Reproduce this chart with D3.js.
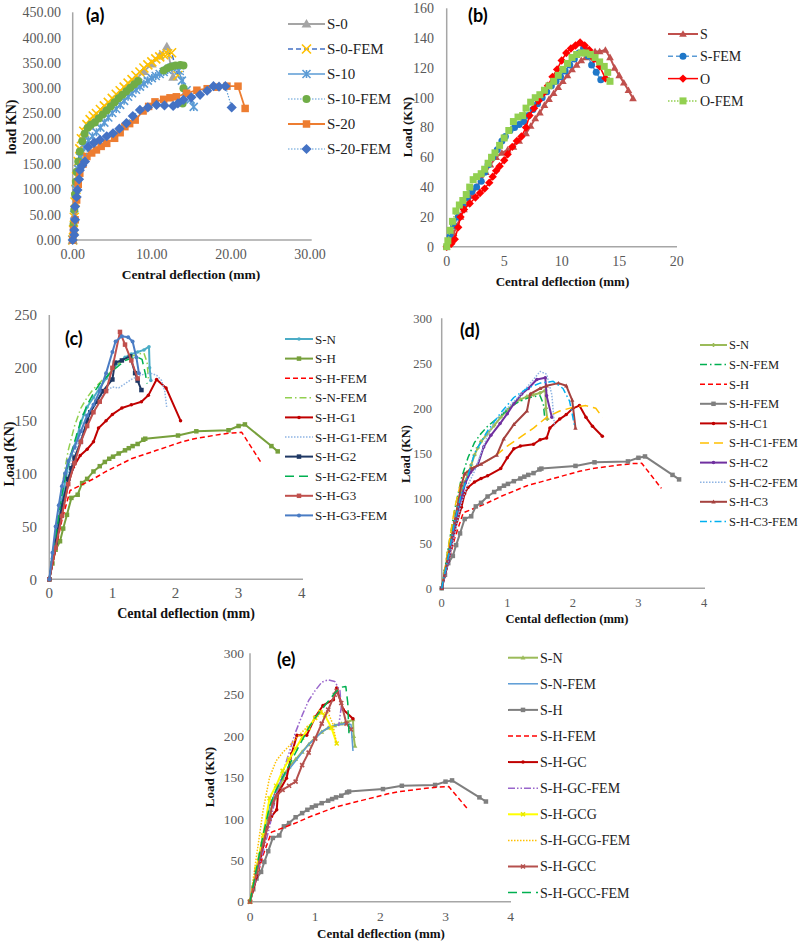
<!DOCTYPE html>
<html>
<head>
<meta charset="utf-8">
<script src="https://cdn.jsdelivr.net/npm/d3@7"></script>
<style>
  body { margin: 0; background: #fff; }
  svg text { font-family: "Liberation Serif", "Times New Roman", serif; }
</style>
</head>
<body>
<svg id="fig" width="800" height="945"></svg>
<script>
// ---- tick values ----
const aXTicks = [0, 10, 20, 30];
const aYTicks = [0, 50, 100, 150, 200, 250, 300, 350, 400, 450];
const bXTicks = [0, 5, 10, 15, 20];
const bYTicks = [0, 20, 40, 60, 80, 100, 120, 140, 160];
const mmTicks = [0, 1, 2, 3, 4];
const cYTicks = [0, 50, 100, 150, 200, 250];
const deYTicks = [0, 50, 100, 150, 200, 250, 300];

// ---- (a) deflection (mm), load (kN) ----
const aS0 = [[0,0],[0.2,40],[0.5,110],[1.0,175],[1.6,205],[2.2,225],[3.0,243],[4.0,258],[5.0,273],[6.0,288],[7.0,303],[8.0,318],[9.0,333],[10.0,348],[11.0,364],[11.9,382],[12.7,322]];
const aS0FEM = [[0,0],[0.1,20],[0.2,45],[0.3,75],[0.4,100],[0.5,125],[0.7,155],[0.9,180],[1.1,200],[1.4,215],[1.8,228],[2.2,238],[2.6,245],[3.0,250],[3.5,258],[4.0,265],[4.5,272],[5.0,280],[5.5,288],[6.0,295],[6.5,302],[7.0,310],[7.5,317],[8.0,325],[8.5,332],[9.0,340],[9.5,346],[10.0,352],[10.5,358],[11.0,362],[11.5,366],[12.0,368],[12.5,370],[13.3,325]];
const aS10 = [[0,0],[0.2,50],[0.4,100],[0.7,140],[1.0,163],[1.5,183],[2.0,197],[2.5,205],[3.0,213],[3.5,222],[4.0,232],[4.5,242],[5.0,251],[5.5,259],[6.0,267],[6.5,275],[7.0,283],[7.5,290],[8.0,297],[8.5,303],[9.0,309],[9.5,315],[10.0,320],[10.5,324],[11.0,328],[11.5,332],[12.0,336],[12.5,341],[13.0,343],[13.4,335],[13.8,315],[14.4,296],[14.9,278],[15.3,263]];
const aS10FEM = [[0,0],[0.1,30],[0.2,60],[0.3,90],[0.4,115],[0.5,135],[0.7,155],[0.9,175],[1.2,195],[1.5,210],[1.9,222],[2.3,228],[2.8,232],[3.3,240],[3.8,248],[4.3,256],[4.8,264],[5.3,272],[5.8,280],[6.3,287],[6.8,294],[7.3,301],[7.8,308],[8.3,314],[11.5,335],[12.0,340],[12.5,343],[13.0,345],[13.6,346],[14.0,345],[14.0,300],[13.9,270]];
const aS20 = [[0,0],[0.1,20],[0.3,40],[0.5,79],[0.7,110],[0.9,132],[1.3,150],[1.8,165],[2.4,172],[3.0,178],[3.6,185],[4.3,191],[5.3,201],[6.0,212],[6.6,224],[7.2,230],[7.9,237],[8.9,255],[9.6,264],[10.4,273],[11.5,278],[12.3,281],[13.1,283],[14.4,290],[15.7,296],[17.0,299],[18.2,302],[19.5,304],[20.9,304],[21.8,260]];
const aS20FEM = [[0,0],[0.2,10],[0.2,20],[0.3,40],[0.3,66],[0.5,85],[0.6,99],[0.8,120],[0.9,138],[1.2,147],[1.55,155],[1.97,184],[2.7,192],[3.45,198],[4.3,205],[5.1,211],[5.9,220],[6.8,231],[7.6,245],[8.5,257],[9.5,262],[10.6,267],[11.6,266],[12.7,265],[13.3,270],[14.0,277],[15.0,282],[16.1,287],[17.0,295],[17.8,304],[18.5,303],[19.3,304],[20.1,262]];

// ---- (b) ----
const bS = [[0,0],[0.3,4],[0.6,9],[0.9,14],[1.2,20],[1.5,25],[1.8,29],[2.2,34],[2.6,40],[3.0,45],[3.4,50],[3.8,55],[4.3,60],[4.8,63],[5.3,65],[5.8,67],[6.3,71],[6.9,76],[7.3,81],[7.7,86],[8.1,90],[8.5,95],[8.9,99],[9.3,103],[9.7,107],[10.1,111],[10.5,115],[10.9,119],[11.3,122],[11.7,125],[12.1,127],[12.5,129],[12.9,131],[13.3,131],[13.8,132],[14.2,127],[14.6,120],[15.0,115],[15.4,110],[15.8,105],[16.2,99.5]];
const bSFEM = [[0,0],[0.3,7],[0.6,14],[1.0,20],[1.4,27],[1.8,33],[2.2,37],[2.6,40],[3.0,44],[3.3,50],[3.6,55],[4.0,60],[4.4,65],[4.8,71],[5.1,74],[5.5,78],[5.9,80],[6.3,82],[6.7,84],[7.1,88],[7.5,92],[7.9,96],[8.3,100],[8.7,104],[9.1,108],[9.5,111],[9.9,114],[10.3,118],[10.7,122],[11.1,126],[11.5,130],[11.9,133],[12.3,128],[12.6,122],[13.0,117],[13.4,112]];
const bO = [[0,0],[0.4,2],[0.7,5],[1.0,13],[1.2,20],[1.5,25],[2.0,29],[2.5,33],[2.9,36],[3.3,39],[3.7,43],[4.0,47],[4.3,51],[4.6,54],[5.0,58],[5.3,62],[5.7,67],[6.1,71],[6.5,74],[6.9,80],[7.2,88],[7.6,93],[8.0,98],[8.4,103],[8.8,108],[9.2,114],[9.6,119],[10.0,125],[10.4,130],[10.8,133],[11.2,135],[11.6,137],[12.0,135],[12.4,132],[12.8,126],[13.3,121],[13.8,113]];
const bOFEM = [[0,0],[0.1,4],[0.3,11],[0.5,17],[0.8,24],[1.1,28],[1.4,31],[1.7,35],[2.0,40],[2.3,45],[2.6,47],[3.0,49],[3.3,52],[3.6,56],[3.9,60],[4.2,63],[4.6,68],[5.0,73],[5.4,78],[5.8,84],[6.2,87],[6.6,88],[6.9,93],[7.3,97],[7.7,100],[8.1,102],[8.5,105],[8.9,108],[9.3,111],[9.7,115],[10.1,119],[10.5,123],[10.9,127],[11.3,129],[11.7,130],[12.1,130],[12.5,129],[12.9,127],[13.3,124],[13.7,121],[14.0,117],[14.2,111]];

// ---- shared S-N / S-H specimens (c, d, e) ----
const sN = [[0,0],[0.05,20],[0.1,40],[0.15,58],[0.2,75],[0.25,92],[0.3,108],[0.35,118],[0.4,126],[0.45,137],[0.5,148],[0.55,156],[0.6,163],[0.7,172],[0.8,181],[0.9,190],[1.0,198],[1.1,205],[1.2,210],[1.3,213],[1.4,215],[1.5,217],[1.58,220],[1.59,200],[1.61,188]];
const sNFEM = [[0,0],[0.1,45],[0.2,88],[0.3,122],[0.4,145],[0.5,162],[0.6,172],[0.7,180],[0.8,186],[0.9,192],[1.0,198],[1.1,204],[1.2,208],[1.3,211],[1.4,213],[1.5,214],[1.55,205],[1.57,190]];
const sH = [[0,0],[0.05,15],[0.1,28],[0.17,36],[0.22,48],[0.28,61],[0.35,77],[0.45,80],[0.52,91],[0.6,95],[0.7,102],[0.8,107],[0.88,111],[0.95,114],[1.01,116],[1.1,119],[1.2,122],[1.26,124],[1.32,126],[1.4,128],[1.49,132],[1.52,133],[2.04,136],[2.33,140],[2.84,141],[3.0,145],[3.1,146.5],[3.52,126],[3.62,121]];
const sHFEM = [[0,0],[0.1,28],[0.2,56],[0.33,84],[0.5,89],[0.7,95],[0.9,102],[1.1,108],[1.3,114],[1.5,118],[1.7,122],[1.9,126],[2.1,130],[2.3,133],[2.5,135],[2.7,137],[2.9,138.5],[3.05,139],[3.2,125],[3.35,111]];

// ---- (c) ----
const cG1 = [[0,0],[0.1,30],[0.2,62],[0.3,90],[0.38,106],[0.49,117],[0.6,123],[0.7,130],[0.78,143],[0.9,150],[1.0,156],[1.15,162],[1.3,165],[1.46,168],[1.57,174],[1.7,189],[1.85,181],[2.08,150]];
const cG1FEM = [[0,0],[0.1,35],[0.2,70],[0.3,100],[0.4,120],[0.5,135],[0.6,150],[0.7,163],[0.8,172],[0.9,178],[1.0,182],[1.1,181],[1.2,185],[1.3,189],[1.4,192],[1.5,194],[1.6,195],[1.7,193],[1.78,188],[1.83,178],[1.86,163]];
const cG2 = [[0,0],[0.1,35],[0.2,70],[0.3,95],[0.35,105],[0.4,115],[0.5,130],[0.6,150],[0.65,158],[0.75,168],[0.85,178],[1.0,189],[1.04,205],[1.15,207],[1.28,211],[1.36,195],[1.4,188],[1.46,179]];
const cG2FEM = [[0,0],[0.1,40],[0.2,80],[0.3,110],[0.4,130],[0.5,150],[0.6,165],[0.7,176],[0.8,185],[0.9,191],[1.0,197],[1.1,202],[1.2,207],[1.3,209],[1.4,210],[1.47,208],[1.52,195],[1.55,185]];
const cG3 = [[0,0],[0.1,30],[0.2,60],[0.3,90],[0.4,110],[0.5,130],[0.6,145],[0.7,158],[0.8,168],[0.9,178],[1.0,200],[1.12,234],[1.2,222],[1.3,207],[1.4,190]];
const cG3FEM = [[0,0],[0.05,25],[0.1,50],[0.15,70],[0.2,88],[0.25,100],[0.3,112],[0.4,125],[0.5,140],[0.6,155],[0.7,165],[0.8,178],[0.9,195],[1.0,215],[1.05,225],[1.15,230],[1.25,229],[1.32,225],[1.38,210],[1.42,195]];

// ---- (d) ----
const dC1 = [[0,0],[0.1,30],[0.2,65],[0.3,90],[0.35,105],[0.4,112],[0.5,118],[0.6,122],[0.7,125],[0.9,133],[1.0,145],[1.1,155],[1.2,158],[1.4,160],[1.5,165],[1.6,167],[1.65,178],[1.8,188],[1.9,193],[2.0,200],[2.1,203],[2.2,190],[2.3,180],[2.45,169]];
const dC1FEM = [[0,0],[0.1,45],[0.2,90],[0.3,120],[0.4,132],[0.6,138],[0.8,146],[1.0,158],[1.2,168],[1.4,178],[1.6,190],[1.8,197],[2.0,201],[2.2,203],[2.35,200],[2.45,190]];
const dC2 = [[0,0],[0.1,30],[0.23,81],[0.3,100],[0.36,117],[0.44,129],[0.55,137],[0.64,157],[0.75,170],[0.89,183],[1.0,194],[1.1,205],[1.22,216],[1.32,222],[1.45,232],[1.58,234],[1.6,214],[1.68,190]];
const dC2FEM = [[0,0],[0.1,30],[0.2,60],[0.3,95],[0.4,115],[0.5,130],[0.6,150],[0.7,170],[0.8,185],[1.0,200],[1.2,215],[1.4,232],[1.5,241],[1.6,238],[1.68,215],[1.72,180]];
const dC3 = [[0,0],[0.1,35],[0.2,75],[0.3,115],[0.35,127],[0.45,133],[0.6,138],[0.84,148],[0.945,166],[1.1,182],[1.3,197],[1.35,216],[1.5,222],[1.6,225],[1.78,228],[1.9,225],[1.99,209],[2.04,178]];
const dC3FEM = [[0,0],[0.1,35],[0.2,75],[0.3,105],[0.4,125],[0.5,150],[0.7,175],[0.9,195],[1.1,212],[1.3,222],[1.5,228],[1.7,230],[1.85,222],[1.95,208],[2.0,190],[2.02,182]];

// ---- (e) ----
const eNFEM = [[0,0],[0.1,40],[0.2,80],[0.3,115],[0.4,135],[0.5,150],[0.6,160],[0.7,170],[0.8,180],[0.9,190],[1.0,197],[1.1,205],[1.2,210],[1.3,213],[1.45,215],[1.55,214],[1.58,182]];
const eGC = [[0,0],[0.1,30],[0.18,58],[0.26,89],[0.33,103],[0.41,111],[0.43,131],[0.56,149],[0.64,179],[0.72,201],[0.87,201],[1.0,223],[1.12,237],[1.28,244],[1.33,258],[1.43,232],[1.58,221]];
const eGCFEM = [[0,0],[0.1,30],[0.2,60],[0.3,90],[0.35,110],[0.4,130],[0.5,155],[0.6,180],[0.7,205],[0.8,225],[0.9,243],[1.0,255],[1.1,265],[1.2,268],[1.3,266],[1.38,255],[1.4,235],[1.36,212]];
const eGCG = [[0,0],[0.1,40],[0.2,80],[0.3,125],[0.4,140],[0.5,158],[0.6,172],[0.7,185],[0.8,198],[0.9,210],[1.0,222],[1.08,229],[1.15,225],[1.25,210],[1.33,191]];
const eGCGFEM = [[0,0],[0.1,55],[0.2,110],[0.3,150],[0.4,170],[0.5,180],[0.6,188],[0.8,205],[1.0,220],[1.1,229],[1.2,228],[1.27,215],[1.33,190]];
const eGCC = [[0,0],[0.1,35],[0.2,70],[0.3,100],[0.35,120],[0.4,128],[0.5,135],[0.6,140],[0.7,145],[0.8,165],[0.9,180],[1.0,197],[1.1,215],[1.2,232],[1.3,250],[1.33,255],[1.4,240],[1.48,215],[1.55,208]];
const eGCCFEM = [[0,0],[0.1,40],[0.2,80],[0.3,115],[0.4,135],[0.5,150],[0.6,165],[0.7,180],[0.8,195],[0.9,210],[1.0,222],[1.1,232],[1.2,242],[1.3,252],[1.4,259],[1.47,260],[1.5,240],[1.52,200]];

const DASH = { solid: null, dash: '5,3', dot: '1.5,1.5', dashdot: '7,3,1.5,3', dashdotdot: '7,2,1.5,2,1.5,2', long: '9,5' };

const panels = [
  {
    x: [72.7, 310], y: [240, 12.3], xd: [0, 30], yd: [0, 450], xt: aXTicks, yt: aYTicks,
    fmt: d3.format('.2f'), tick: 14, yLabX: 61, xLabY: 259, axisEnd: 311.7,
    label: { t: '(a)', x: 86, y: 22 },
    xTitle: { t: 'Central deflection (mm)', x: 191, y: 279, size: 13.5 },
    yTitle: { t: 'load KN)', x: 11, y: 127, size: 14 },
    legend: { x: 288, len: 37, y: 24, dy: 25, size: 15 },
    series: [
      { name: 'S-0', data: aS0, stroke: '#a5a5a5', w: 1.8, dash: 'solid', m: 'tri', mc: '#a5a5a5', ms: 9 },
      { name: 'S-0-FEM', data: aS0FEM, stroke: '#4472c4', w: 1.5, dash: 'dash', m: 'x', mc: '#ffc000', ms: 9 },
      { name: 'S-10', data: aS10, stroke: '#5b9bd5', w: 1.5, dash: 'solid', m: 'ast', mc: '#5b9bd5', ms: 8 },
      { name: 'S-10-FEM', data: aS10FEM, stroke: '#5b9bd5', w: 1.2, dash: 'dot', m: 'circle', mc: '#70ad47', ms: 8 },
      { name: 'S-20', data: aS20, stroke: '#ed7d31', w: 1.8, dash: 'solid', m: 'square', mc: '#ed7d31', ms: 7.5 },
      { name: 'S-20-FEM', data: aS20FEM, stroke: '#5b9bd5', w: 1.2, dash: 'dot', m: 'diamond', mc: '#4472c4', ms: 8.5 }
    ]
  },
  {
    x: [446.7, 676.7], y: [246.7, 8.3], xd: [0, 20], yd: [0, 160], xt: bXTicks, yt: bYTicks,
    fmt: d3.format('d'), tick: 14, yLabX: 434, xLabY: 266, axisEnd: 677,
    label: { t: '(b)', x: 468, y: 22 },
    xTitle: { t: 'Central deflection (mm)', x: 562.5, y: 286, size: 13 },
    yTitle: { t: 'Load (KN)', x: 407, y: 127, size: 13 },
    legend: { x: 668, len: 30, y: 34, dy: 22.3, size: 14 },
    series: [
      { name: 'S', data: bS, stroke: '#c0504d', w: 2, dash: 'solid', m: 'tri', mc: '#c0504d', ms: 7 },
      { name: 'S-FEM', data: bSFEM, stroke: '#5b9bd5', w: 1.5, dash: 'dash', m: 'circle', mc: '#1f77c8', ms: 7 },
      { name: 'O', data: bO, stroke: '#ff0000', w: 1.5, dash: 'solid', m: 'diamond', mc: '#ff0000', ms: 7 },
      { name: 'O-FEM', data: bOFEM, stroke: '#92d050', w: 1.5, dash: 'dot', m: 'square', mc: '#92d050', ms: 7 }
    ]
  },
  {
    x: [49.3, 301.7], y: [579.3, 315], xd: [0, 4], yd: [0, 250], xt: mmTicks, yt: cYTicks,
    fmt: d3.format('d'), tick: 15, yLabX: 37, xLabY: 598, axisEnd: 303,
    label: { t: '(c)', x: 65, y: 345 },
    xTitle: { t: 'Cental deflection (mm)', x: 186, y: 618, size: 14 },
    yTitle: { t: 'Load (KN)', x: 9, y: 454, size: 14 },
    legend: { x: 285, len: 28, y: 339, dy: 19.6, size: 13 },
    series: [
      { name: 'S-N', data: sN, stroke: '#4bacc6', w: 2, dash: 'solid', m: 'dot', mc: '#4bacc6', ms: 3.5 },
      { name: 'S-H', data: sH, stroke: '#77a03c', w: 2, dash: 'solid', m: 'square', mc: '#77a03c', ms: 4.5 },
      { name: 'S-H-FEM', data: sHFEM, stroke: '#ff0000', w: 1.5, dash: 'dash', m: null },
      { name: 'S-N-FEM', data: sNFEM, stroke: '#92d050', w: 1.5, dash: 'dashdot', m: null },
      { name: 'S-H-G1', data: cG1, stroke: '#c00000', w: 2, dash: 'solid', m: 'dot', mc: '#c00000', ms: 3.5 },
      { name: 'S-H-G1-FEM', data: cG1FEM, stroke: '#8eb4e3', w: 1.5, dash: 'dot', m: null },
      { name: 'S-H-G2', data: cG2, stroke: '#1f3864', w: 2, dash: 'solid', m: 'square', mc: '#1f3864', ms: 4.5 },
      { name: 'S-H-G2-FEM', data: cG2FEM, stroke: '#00b050', w: 1.5, dash: 'long', m: null },
      { name: 'S-H-G3', data: cG3, stroke: '#c0504d', w: 2, dash: 'solid', m: 'square', mc: '#c0504d', ms: 4.5 },
      { name: 'S-H-G3-FEM', data: cG3FEM, stroke: '#4a7cc4', w: 2, dash: 'solid', m: 'dot', mc: '#4a7cc4', ms: 4 }
    ]
  },
  {
    x: [441.7, 704], y: [588.3, 318.3], xd: [0, 4], yd: [0, 300], xt: mmTicks, yt: deYTicks,
    fmt: d3.format('d'), tick: 12.5, yLabX: 432, xLabY: 607, axisEnd: 705,
    label: { t: '(d)', x: 460, y: 337 },
    xTitle: { t: 'Cental deflection (mm)', x: 567, y: 623, size: 12.5 },
    yTitle: { t: 'Load (KN)', x: 406, y: 454, size: 12.5 },
    legend: { x: 700, len: 27, y: 345, dy: 19.6, size: 12.5 },
    series: [
      { name: 'S-N', data: sN, stroke: '#9bbb59', w: 2, dash: 'solid', m: 'plus', mc: '#9bbb59', ms: 4 },
      { name: 'S-N-FEM', data: sNFEM, stroke: '#00b050', w: 1.5, dash: 'dashdot', m: null },
      { name: 'S-H', data: sHFEM, stroke: '#ff0000', w: 1.5, dash: 'dash', m: null },
      { name: 'S-H-FEM', data: sH, stroke: '#7f7f7f', w: 2, dash: 'solid', m: 'square', mc: '#7f7f7f', ms: 4.5 },
      { name: 'S-H-C1', data: dC1, stroke: '#c00000', w: 2, dash: 'solid', m: 'dot', mc: '#c00000', ms: 3.5 },
      { name: 'S-H-C1-FEM', data: dC1FEM, stroke: '#ffc000', w: 1.5, dash: 'long', m: null },
      { name: 'S-H-C2', data: dC2, stroke: '#7030a0', w: 2, dash: 'solid', m: 'dot', mc: '#7030a0', ms: 3.5 },
      { name: 'S-H-C2-FEM', data: dC2FEM, stroke: '#8eb4e3', w: 1.5, dash: 'dot', m: null },
      { name: 'S-H-C3', data: dC3, stroke: '#a5423f', w: 2, dash: 'solid', m: 'tri', mc: '#a5423f', ms: 4 },
      { name: 'S-H-C3-FEM', data: dC3FEM, stroke: '#00b0f0', w: 1.5, dash: 'dashdot', m: null }
    ]
  },
  {
    x: [250, 510.7], y: [901.7, 653.3], xd: [0, 4], yd: [0, 300], xt: mmTicks, yt: deYTicks,
    fmt: d3.format('d'), tick: 13.5, yLabX: 244, xLabY: 921, axisEnd: 511,
    label: { t: '(e)', x: 277, y: 666 },
    xTitle: { t: 'Cental deflection (mm)', x: 381, y: 938, size: 13 },
    yTitle: { t: 'Load (KN)', x: 209, y: 777, size: 13 },
    legend: { x: 508, len: 30, y: 657.7, dy: 26.1, size: 14 },
    series: [
      { name: 'S-N', data: sN, stroke: '#9bbb59', w: 2, dash: 'solid', m: 'tri', mc: '#9bbb59', ms: 4.5 },
      { name: 'S-N-FEM', data: eNFEM, stroke: '#5b9bd5', w: 1.5, dash: 'solid', m: null },
      { name: 'S-H', data: sH, stroke: '#7f7f7f', w: 2, dash: 'solid', m: 'square', mc: '#7f7f7f', ms: 4.5 },
      { name: 'S-H-FEM', data: sHFEM, stroke: '#ff0000', w: 1.5, dash: 'dash', m: null },
      { name: 'S-H-GC', data: eGC, stroke: '#c00000', w: 2, dash: 'solid', m: 'dot', mc: '#c00000', ms: 3.5 },
      { name: 'S-H-GC-FEM', data: eGCFEM, stroke: '#9966cc', w: 1.5, dash: 'dashdotdot', m: null },
      { name: 'S-H-GCG', data: eGCG, stroke: '#ffff00', w: 2, dash: 'solid', m: 'x', mc: '#e8e800', ms: 4 },
      { name: 'S-H-GCG-FEM', data: eGCGFEM, stroke: '#ffc000', w: 1.5, dash: 'dot', m: null },
      { name: 'S-H-GCC', data: eGCC, stroke: '#b5504d', w: 2, dash: 'solid', m: 'x', mc: '#b5504d', ms: 4 },
      { name: 'S-H-GCC-FEM', data: eGCCFEM, stroke: '#00b050', w: 1.5, dash: 'long', m: null }
    ]
  }
];

const svg = d3.select('#fig');

// marker shapes, s = width in px
function markerPath(type, s) {
  const h = s / 2;
  switch (type) {
    case 'square': return `M${-h},${-h}h${s}v${s}h${-s}Z`;
    case 'diamond': return `M0,${-h * 1.2}L${h * 1.2},0L0,${h * 1.2}L${-h * 1.2},0Z`;
    case 'tri': return `M0,${-h * 1.1}L${h * 1.1},${h * 0.8}L${-h * 1.1},${h * 0.8}Z`;
    case 'x': return `M${-h},${-h}L${h},${h}M${-h},${h}L${h},${-h}`;
    case 'plus': return `M${-h},0H${h}M0,${-h}V${h}`;
    case 'ast': return `M${-h},${-h}L${h},${h}M${-h},${h}L${h},${-h}M0,${-h}V${h}`;
    default: return d3.path().toString();
  }
}

function drawMarker(g, type, s, color, x, y) {
  if (!type) return;
  if (type === 'circle' || type === 'dot') {
    g.append('circle').attr('cx', x).attr('cy', y).attr('r', s / 2).attr('fill', color);
  } else if (type === 'x' || type === 'plus' || type === 'ast') {
    g.append('path').attr('d', markerPath(type, s)).attr('transform', `translate(${x},${y})`)
      .attr('stroke', color).attr('stroke-width', 1.6).attr('fill', 'none');
  } else {
    g.append('path').attr('d', markerPath(type, s)).attr('transform', `translate(${x},${y})`)
      .attr('fill', color);
  }
}

panels.forEach(p => {
  const xs = d3.scaleLinear().domain(p.xd).range(p.x);
  const ys = d3.scaleLinear().domain(p.yd).range(p.y);
  const g = svg.append('g');

  // axes lines
  g.append('line').attr('x1', p.x[0]).attr('x2', p.x[0]).attr('y1', p.y[0]).attr('y2', ys(p.yd[1]))
    .attr('stroke', '#a6a6a6').attr('stroke-width', 1.5);
  g.append('line').attr('x1', p.x[0]).attr('x2', p.axisEnd).attr('y1', p.y[0]).attr('y2', p.y[0])
    .attr('stroke', '#a6a6a6').attr('stroke-width', 1.5);

  // tick labels
  g.selectAll('.yl').data(p.yt).enter().append('text')
    .attr('x', p.yLabX).attr('y', d => ys(d)).attr('dy', '0.35em')
    .attr('text-anchor', 'end').attr('font-size', p.tick).attr('fill', '#595959')
    .text(d => p.fmt(d));
  g.selectAll('.xl').data(p.xt).enter().append('text')
    .attr('x', d => xs(d)).attr('y', p.xLabY)
    .attr('text-anchor', 'middle').attr('font-size', p.tick).attr('fill', '#595959')
    .text(d => p.fmt(d));

  // titles
  g.append('text').attr('x', p.xTitle.x).attr('y', p.xTitle.y).attr('text-anchor', 'middle')
    .attr('font-size', p.xTitle.size).attr('font-weight', 'bold').attr('fill', '#111').text(p.xTitle.t);
  g.append('text').attr('transform', `translate(${p.yTitle.x},${p.yTitle.y}) rotate(-90)`)
    .attr('text-anchor', 'middle').attr('dy', '0.35em')
    .attr('font-size', p.yTitle.size).attr('font-weight', 'bold').attr('fill', '#111').text(p.yTitle.t);
  g.append('text').attr('x', p.label.x).attr('y', p.label.y)
    .style('font-family', 'Lato, "Open Sans", sans-serif')
    .attr('font-size', 18).attr('font-weight', 'bold').attr('fill', '#000').text(p.label.t);

  // series
  const line = d3.line().x(d => xs(d[0])).y(d => ys(d[1]));
  p.series.forEach(s => {
    const sg = g.append('g');
    sg.append('path').attr('d', line(s.data)).attr('fill', 'none')
      .attr('stroke', s.stroke).attr('stroke-width', s.w)
      .attr('stroke-dasharray', DASH[s.dash]).attr('stroke-linejoin', 'round');
    if (s.m) s.data.forEach(d => drawMarker(sg, s.m, s.ms, s.mc, xs(d[0]), ys(d[1])));
  });

  // legend
  p.series.forEach((s, i) => {
    const ly = p.legend.y + i * p.legend.dy;
    const lg = g.append('g');
    lg.append('line').attr('x1', p.legend.x).attr('x2', p.legend.x + p.legend.len)
      .attr('y1', ly).attr('y2', ly).attr('stroke', s.stroke).attr('stroke-width', s.w)
      .attr('stroke-dasharray', DASH[s.dash]);
    if (s.m) drawMarker(lg, s.m, s.ms, s.mc, p.legend.x + p.legend.len / 2, ly);
    lg.append('text').attr('x', p.legend.x + p.legend.len + 2).attr('y', ly).attr('dy', '0.35em')
      .attr('font-size', p.legend.size).attr('fill', '#222').text(s.name);
  });
});
</script>
</body>
</html>
